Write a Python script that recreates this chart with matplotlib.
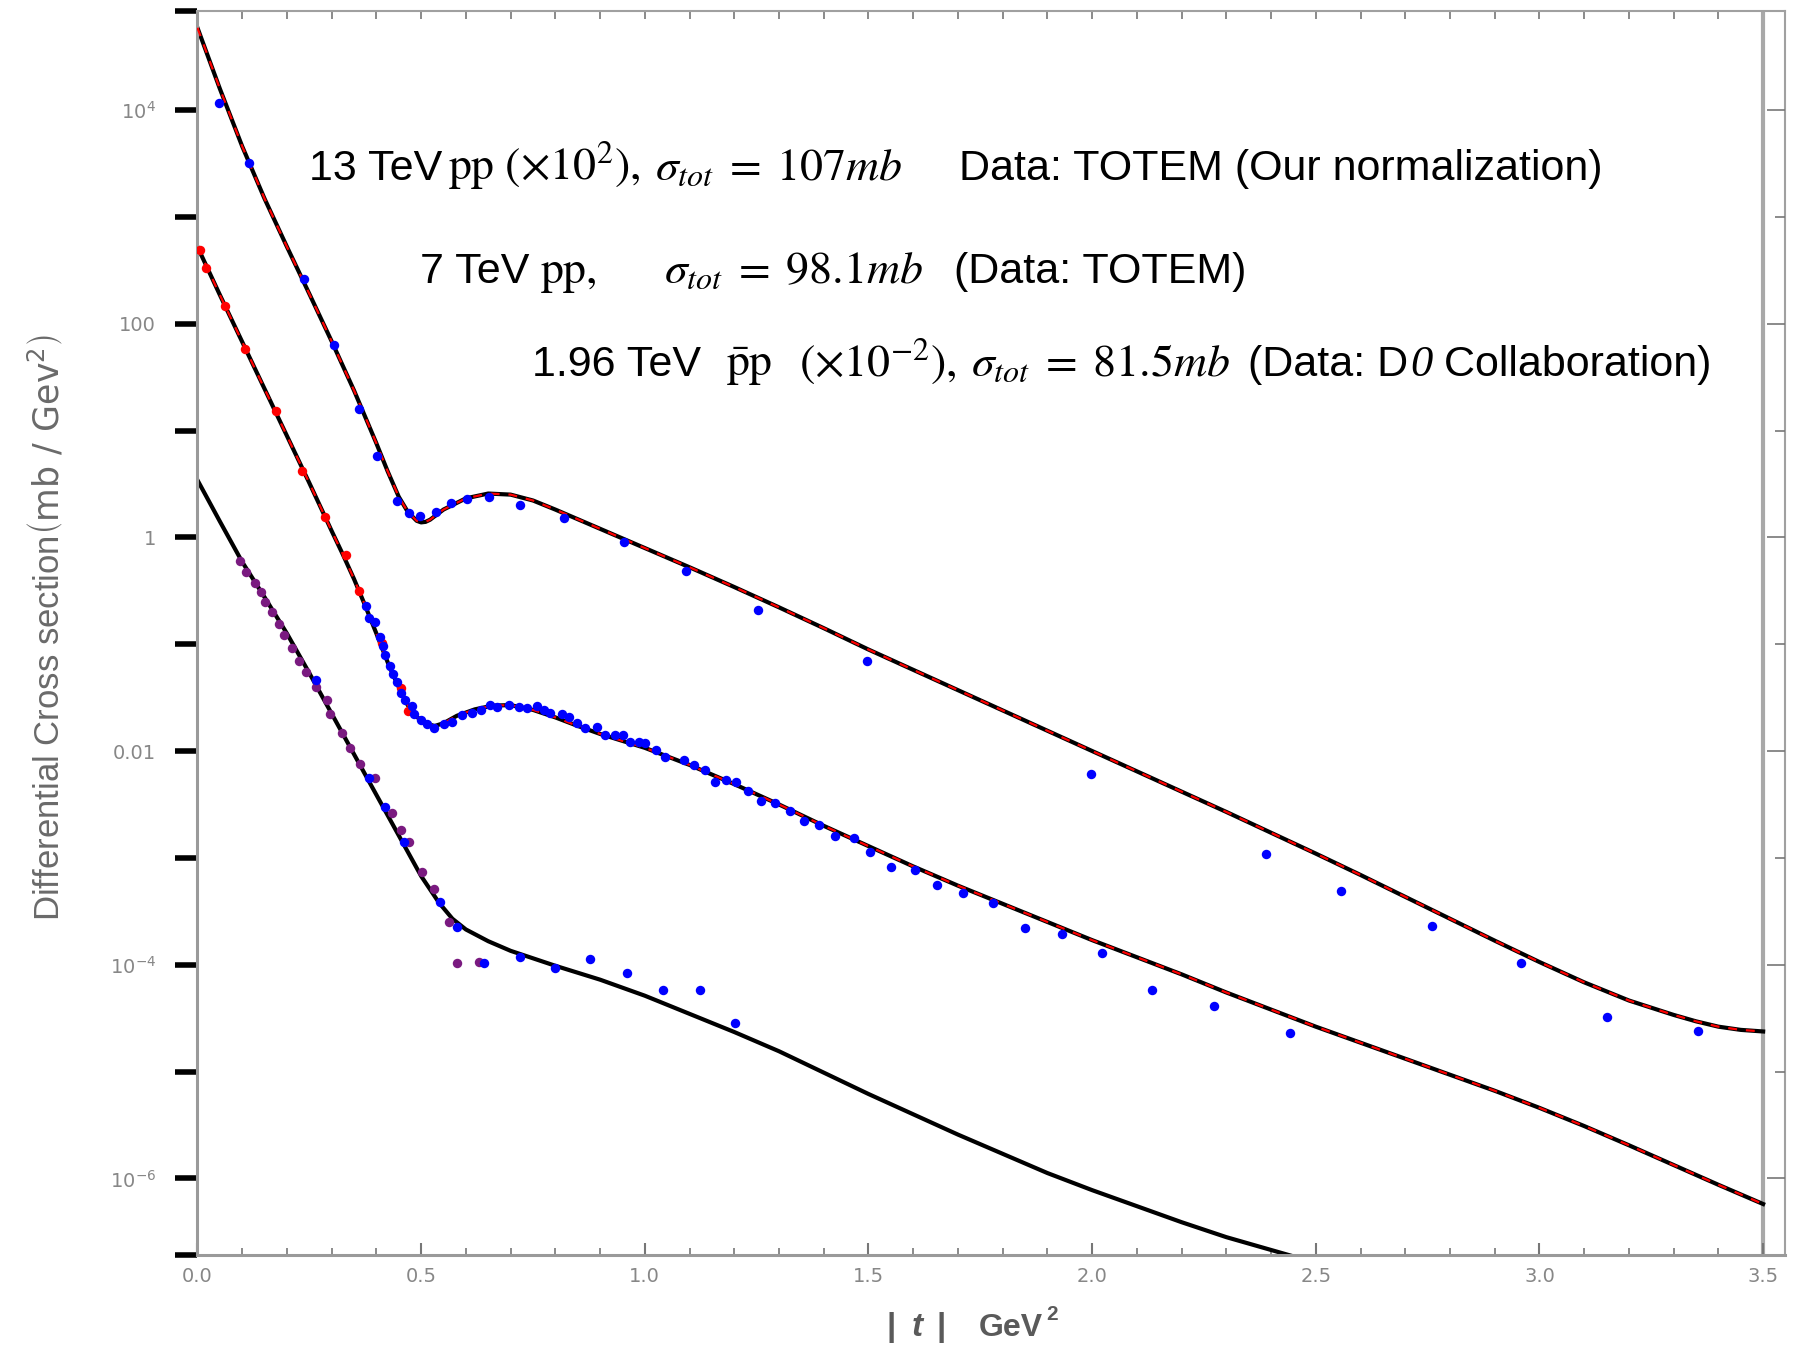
import numpy as np
import matplotlib
matplotlib.use("Agg")
import matplotlib.pyplot as plt
from matplotlib.ticker import FixedLocator, NullFormatter, FixedFormatter

plt.rcParams['mathtext.fontset'] = 'dejavusans'

# ---------------- data (log10 of dsigma/dt) ----------------
# model curves
t13_curve = [0, 0.05, 0.1, 0.15, 0.2, 0.25, 0.3, 0.35, 0.4, 0.425, 0.45, 0.47, 0.49, 0.50, 0.51, 0.52, 0.55,
             0.6, 0.65, 0.7, 0.75, 0.8, 0.9, 1.0, 1.1, 1.2, 1.3, 1.4, 1.5, 1.6, 1.7, 1.8, 1.9, 2.0,
             2.1, 2.2, 2.3, 2.4, 2.5, 2.6, 2.7, 2.8, 2.9, 3.0, 3.1, 3.2, 3.3, 3.35, 3.4, 3.45, 3.5]
l13_curve = [4.77, 4.20, 3.66, 3.17, 2.72, 2.28, 1.835, 1.375, 0.88, 0.62, 0.38, 0.24, 0.155, 0.14, 0.145, 0.165, 0.26,
             0.365, 0.41, 0.40, 0.345, 0.26, 0.08, -0.10, -0.28, -0.465, -0.655, -0.85, -1.05, -1.24, -1.43, -1.62, -1.81, -2.00,
             -2.19, -2.38, -2.57, -2.765, -2.96, -3.16, -3.365, -3.57, -3.775, -3.975, -4.165, -4.335, -4.47, -4.53, -4.58, -4.61, -4.625]

t7_curve = [0, 0.05, 0.1, 0.15, 0.2, 0.25, 0.3, 0.325, 0.35, 0.375, 0.4, 0.43, 0.45, 0.47, 0.49, 0.51, 0.53, 0.55,
            0.58, 0.62, 0.66, 0.70, 0.75, 0.80, 0.85, 0.9, 1.0, 1.1, 1.2, 1.3, 1.4, 1.5, 1.6, 1.7, 1.8,
            1.9, 2.0, 2.1, 2.2, 2.3, 2.4, 2.5, 2.6, 2.7, 2.8, 2.9, 3.0, 3.1, 3.2, 3.3, 3.4, 3.5]
l7_curve = [2.72, 2.27, 1.83, 1.39, 0.95, 0.51, 0.06, -0.16, -0.39, -0.64, -0.90, -1.22, -1.40, -1.57, -1.68, -1.74, -1.766, -1.74,
            -1.67, -1.61, -1.575, -1.57, -1.615, -1.685, -1.765, -1.84, -1.97, -2.13, -2.31, -2.50, -2.70, -2.89, -3.08, -3.26, -3.43,
            -3.60, -3.77, -3.93, -4.09, -4.26, -4.42, -4.58, -4.73, -4.88, -5.03, -5.18, -5.34, -5.51, -5.69, -5.875, -6.06, -6.24]

t196_curve = [0, 0.05, 0.1, 0.15, 0.2, 0.25, 0.3, 0.35, 0.4, 0.45, 0.5, 0.54, 0.57, 0.6, 0.65, 0.7, 0.8, 0.9,
              1.0, 1.1, 1.2, 1.3, 1.4, 1.5, 1.6, 1.7, 1.8, 1.9, 2.0, 2.1, 2.2, 2.3, 2.4, 2.5]
l196_curve = [0.536, 0.15, -0.23, -0.56, -0.90, -1.27, -1.65, -2.03, -2.41, -2.79, -3.17, -3.42, -3.57, -3.67, -3.78, -3.87, -4.01, -4.14,
              -4.29, -4.46, -4.63, -4.81, -5.01, -5.21, -5.40, -5.59, -5.77, -5.95, -6.11, -6.26, -6.41, -6.55, -6.67, -6.79]

# 13 TeV TOTEM data (x 10^2)
t13_data = [0.048, 0.115, 0.239, 0.305, 0.361, 0.402, 0.446, 0.473, 0.497, 0.534, 0.567, 0.603, 0.651, 0.722,
            0.819, 0.954, 1.093, 1.252, 1.497, 1.998, 2.388, 2.556, 2.760, 2.958, 3.151, 3.354]
l13_data = [4.062, 3.506, 2.414, 1.80, 1.198, 0.761, 0.340, 0.224, 0.202, 0.240, 0.318, 0.358, 0.374, 0.299,
            0.184, -0.045, -0.316, -0.68, -1.16, -2.215, -2.966, -3.313, -3.64, -3.98, -4.49, -4.62]

# 7 TeV TOTEM data, low |t| set (red)
t7_red = [0.006, 0.0196, 0.061, 0.107, 0.1745, 0.234, 0.286, 0.331, 0.361, 0.413, 0.454, 0.470]
l7_red = [2.69, 2.517, 2.165, 1.759, 1.185, 0.623, 0.187, -0.166, -0.50, -0.99, -1.41, -1.63]

# 7 TeV TOTEM data, high |t| set (blue)
t7_blue = [0.377, 0.383, 0.396, 0.407, 0.414, 0.419, 0.431, 0.437, 0.446, 0.454, 0.464, 0.480, 0.484, 0.499,
           0.513, 0.528, 0.551, 0.569, 0.592, 0.614, 0.633, 0.655, 0.670, 0.696, 0.718, 0.737, 0.758, 0.774,
           0.789, 0.815, 0.830, 0.849, 0.867, 0.893, 0.912, 0.934, 0.951, 0.968, 0.986, 1.001, 1.024, 1.046,
           1.087, 1.111, 1.135, 1.157, 1.181, 1.205, 1.230, 1.260, 1.290, 1.324, 1.355, 1.390, 1.426, 1.467,
           1.504, 1.551, 1.605, 1.653, 1.712, 1.778, 1.849, 1.932, 2.022, 2.134, 2.273, 2.443]
l7_blue = [-0.643, -0.758, -0.789, -0.930, -1.017, -1.101, -1.201, -1.279, -1.351, -1.460, -1.523, -1.579, -1.654, -1.710,
           -1.747, -1.788, -1.747, -1.725, -1.663, -1.641, -1.616, -1.569, -1.591, -1.569, -1.585, -1.594, -1.579, -1.616,
           -1.648, -1.657, -1.685, -1.741, -1.788, -1.772, -1.850, -1.850, -1.850, -1.913, -1.913, -1.928, -1.991, -2.053,
           -2.084, -2.131, -2.178, -2.291, -2.270, -2.291, -2.373, -2.466, -2.488, -2.563, -2.656, -2.696, -2.792, -2.817,
           -2.946, -3.082, -3.114, -3.254, -3.329, -3.426, -3.655, -3.712, -3.887, -4.235, -4.39, -4.64]

# 1.96 TeV D0 data (x 10^-2), purple set
t196_purple = [0.096, 0.109, 0.128, 0.141, 0.152, 0.166, 0.182, 0.193, 0.212, 0.227, 0.242, 0.264, 0.290, 0.297,
               0.323, 0.342, 0.364, 0.398, 0.435, 0.454, 0.472, 0.502, 0.528, 0.562, 0.580, 0.629]
l196_purple = [-0.219, -0.322, -0.425, -0.509, -0.602, -0.696, -0.811, -0.914, -1.039, -1.155, -1.257, -1.398, -1.523, -1.654,
               -1.835, -1.975, -2.122, -2.256, -2.583, -2.739, -2.848, -3.129, -3.295, -3.597, -3.987, -3.971]
# 1.96 TeV, blue set
t196_blue = [0.264, 0.383, 0.420, 0.461, 0.543, 0.580, 0.640, 0.722, 0.800, 0.877, 0.961, 1.040, 1.124, 1.202]
l196_blue = [-1.335, -2.256, -2.521, -2.848, -3.41, -3.65, -3.987, -3.93, -4.027, -3.949, -4.08, -4.236, -4.236, -4.542]

x_ticks = [0.0, 0.5, 1.0, 1.5, 2.0, 2.5, 3.0, 3.5]
x_ticklabels = ["0.0", "0.5", "1.0", "1.5", "2.0", "2.5", "3.0", "3.5"]
y_label_exp = [4, 2, 0, -2, -4, -6]
y_ticklabels = [r"$10^{4}$", "100", "1", "0.01", r"$10^{-4}$", r"$10^{-6}$"]

# annotation pieces: (text, x_px, font kind)
line13 = [("13 TeV", 309, 'sans'), (r"$\mathrm{pp}\ (\times 10^{2}),$", 448, 'math'),
          (r"$\sigma_{tot}\;=\;107mb$", 655, 'math'), ("Data: TOTEM (Our normalization)", 959, 'sans')]
line7 = [("7 TeV", 420, 'sans'), (r"$\mathrm{pp},$", 540, 'math'),
         (r"$\sigma_{tot}\;=\;98.1mb$", 664, 'math'), ("(Data: TOTEM)", 954, 'sans')]
line196 = [("1.96 TeV", 532, 'sans'), (r"$\bar{\mathrm{p}}\mathrm{p}$", 726, 'math'),
           (r"$(\times 10^{-2}),$", 799, 'math'), (r"$\sigma_{tot}\;=\;81.5mb$", 971, 'math'),
           ("(Data: D", 1248, 'sans_chain'), ("0", None, 'serif_it_chain'), (" Collaboration)", None, 'sans_chain')]
baselines = [180, 283, 376]

# ---------------- figure ----------------
W, H = 1795, 1348
fig = plt.figure(figsize=(W / 100, H / 100), dpi=100)
ax = fig.add_axes([0.1100, 0.0690, 0.8847, 0.9228])

ymin, ymax = 10 ** -6.717, 10 ** 4.926
xmin, xmax = 0.0, 3.55

def p10(v):
    return 10.0 ** np.asarray(v)

# curves: black solid + red dashed overlay
ax.plot(t13_curve, p10(l13_curve), color='black', lw=3.0, zorder=2)
ax.plot(t13_curve, p10(l13_curve), color='#ff0000', lw=1.6, dashes=(4, 4), zorder=3)
ax.plot(t7_curve, p10(l7_curve), color='black', lw=3.0, zorder=2)
ax.plot(t7_curve, p10(l7_curve), color='#ff0000', lw=1.6, dashes=(4, 4), zorder=3)
ax.plot(t196_curve, p10(l196_curve), color='black', lw=3.0, zorder=2)

ms = 6.8
ax.plot(t13_data, p10(l13_data), 'o', color='#0000ff', ms=ms, mew=0, zorder=4)
ax.plot(t7_red, p10(l7_red), 'o', color='#ff0000', ms=ms, mew=0, zorder=4)
ax.plot(t7_blue, p10(l7_blue), 'o', color='#0000ff', ms=ms, mew=0, zorder=4)
ax.plot(t196_purple, p10(l196_purple), 'o', color='#7a1a80', ms=ms, mew=0, zorder=4)
ax.plot(t196_blue, p10(l196_blue), 'o', color='#0000ff', ms=ms, mew=0, zorder=4)

# vertical gray line at |t| = 3.5
ax.axvline(3.5, color='#a8a8a8', lw=3.0, zorder=1)

ax.set_yscale('log')
ax.set_xlim(xmin, xmax)
ax.set_ylim(ymin, ymax)

# left ticks: outward, black, thick, every decade + at the limits
left_ticks = [ymin] + [10.0 ** k for k in range(-6, 5)] + [ymax]
lab_map = {e: l for e, l in zip(y_label_exp, y_ticklabels)}
left_labels = []
for v in left_ticks:
    e = int(round(np.log10(v)))
    if abs(np.log10(v) - e) < 1e-6 and e in lab_map:
        left_labels.append(lab_map[e])
    else:
        left_labels.append("")
ax.yaxis.set_major_locator(FixedLocator(left_ticks))
ax.yaxis.set_major_formatter(FixedFormatter(left_labels))
ax.yaxis.set_minor_locator(FixedLocator([]))
ax.yaxis.set_minor_formatter(NullFormatter())
ax.tick_params(axis='y', which='major', direction='out', length=16, width=4, color='black',
               labelsize=14, labelcolor='#878787', pad=14, left=True, right=False)

# bottom ticks: inward, gray
ax.xaxis.set_major_locator(FixedLocator(x_ticks))
ax.xaxis.set_major_formatter(FixedFormatter(x_ticklabels))
ax.xaxis.set_minor_locator(FixedLocator([i / 10 for i in range(0, 36) if i % 5 != 0]))
ax.tick_params(axis='x', which='major', direction='in', length=9, width=1.5, color='#777777',
               labelsize=14, labelcolor='#878787', pad=9, top=False)
ax.tick_params(axis='x', which='minor', direction='in', length=5, width=1.2, color='#777777', top=False)

for s in ['left', 'bottom']:
    ax.spines[s].set_color('#9a9a9a')
    ax.spines[s].set_linewidth(2.2)
for s in ['top', 'right']:
    ax.spines[s].set_color('#a0a0a0')
    ax.spines[s].set_linewidth(1.5)

for lab in ax.get_xticklabels() + ax.get_yticklabels():
    lab.set_fontfamily('DejaVu Sans')

# top ticks (inward, small, every 0.1)
sec = ax.secondary_xaxis('top')
sec.xaxis.set_major_locator(FixedLocator([i / 10 for i in range(0, 36)]))
sec.xaxis.set_major_formatter(NullFormatter())
sec.tick_params(direction='in', length=6, width=1.2, color='#777777')
sec.spines['top'].set_visible(False)

# right ticks (inward, long at even decades, short at odd)
ax2 = ax.twinx()
ax2.set_yscale('log')
ax2.set_ylim(ymin, ymax)
ax2.yaxis.set_major_locator(FixedLocator([10.0 ** k for k in range(-6, 5, 2)]))
ax2.yaxis.set_minor_locator(FixedLocator([10.0 ** k for k in range(-5, 5, 2)]))
ax2.yaxis.set_major_formatter(NullFormatter())
ax2.yaxis.set_minor_formatter(NullFormatter())
ax2.tick_params(axis='y', which='major', direction='in', length=13, width=1.2, color='#777777')
ax2.tick_params(axis='y', which='minor', direction='in', length=7, width=1.2, color='#777777')
for s in ax2.spines.values():
    s.set_visible(False)

# x axis label  "| t |  GeV^2"
xl_col = '#5a5a5a'
xl_base = 1 - 1336 / H
fig.text(891 / W, xl_base, "|", ha='center', va='baseline', fontsize=24, fontweight='bold', color=xl_col, family='Liberation Sans')
fig.text(917 / W, xl_base, "t", ha='center', va='baseline', fontsize=24, fontweight='bold', fontstyle='italic', color=xl_col, family='Liberation Sans')
fig.text(941 / W, xl_base, "|", ha='center', va='baseline', fontsize=24, fontweight='bold', color=xl_col, family='Liberation Sans')
fig.text(979 / W, xl_base, "GeV", ha='left', va='baseline', fontsize=23, fontweight='bold', color=xl_col, family='Liberation Sans')
fig.text(1046 / W, 1 - 1320 / H, "2", ha='left', va='baseline', fontsize=15, fontweight='bold', color=xl_col, family='Liberation Sans')

# y axis label
fig.text(46 / W, 1 - 628 / H, r"Differential Cross section$\left(\mathrm{mb\ /\ Gev^{2}}\right)$",
         rotation=90, ha='center', va='center', fontsize=25, color='#6a6a6a',
         family='Liberation Sans', math_fontfamily='dejavusans')

# annotations
renderer = fig.canvas.get_renderer()
for line, base in zip([line13, line7, line196], baselines):
    cursor = None
    for txt, xp, kind in line:
        xpos = xp / W if xp is not None else cursor
        if kind.startswith('sans'):
            tobj = fig.text(xpos, 1 - base / H, txt, ha='left', va='baseline', fontsize=31, color='black',
                            family='Liberation Sans', math_fontfamily='stix')
        elif kind.startswith('serif_it'):
            tobj = fig.text(xpos + 2 / W, 1 - base / H, txt, ha='left', va='baseline', fontsize=32, color='black',
                            family='Liberation Serif', fontstyle='italic')
        else:
            tobj = fig.text(xpos, 1 - base / H, txt, ha='left', va='baseline', fontsize=33, color='black',
                            math_fontfamily='stix')
        if kind.endswith('chain'):
            bb = tobj.get_window_extent(renderer)
            cursor = bb.x1 / W

fig.savefig("out.png", dpi=100)
